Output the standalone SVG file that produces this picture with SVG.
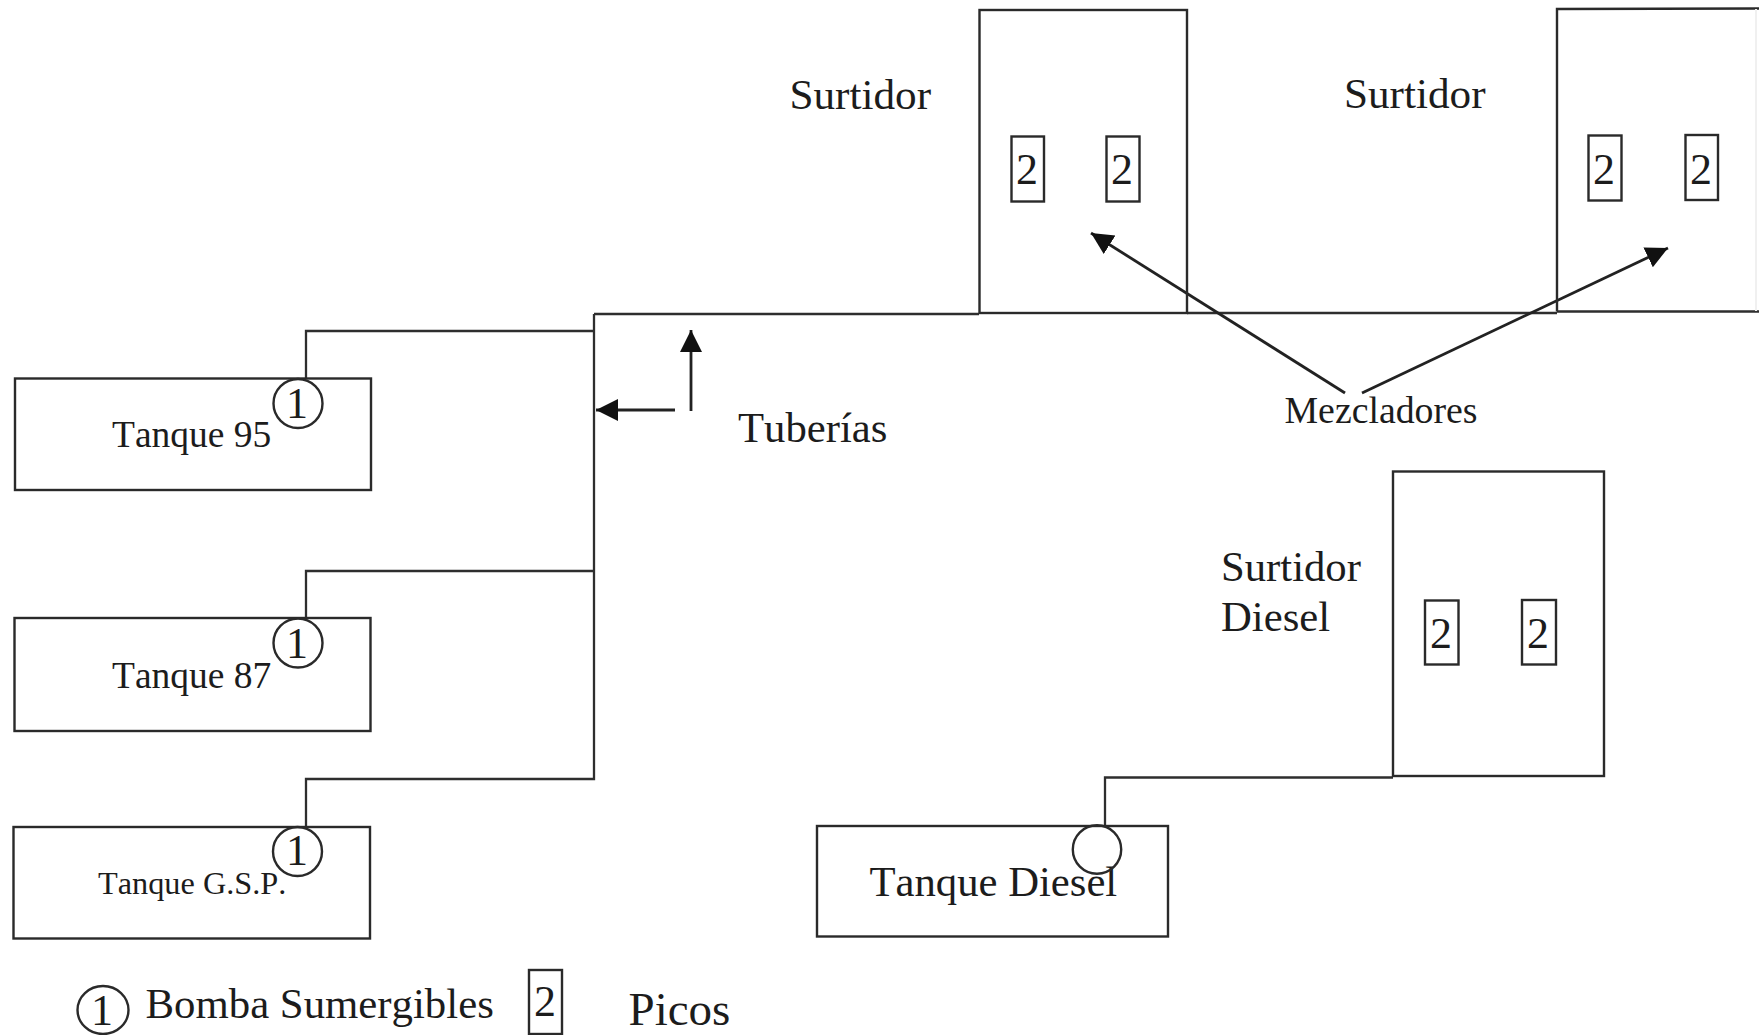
<svg xmlns="http://www.w3.org/2000/svg" width="1759" height="1035" viewBox="0 0 1759 1035">
<style>
.b{fill:none;stroke:#2a2a2a;stroke-width:2.4}
.p{fill:none;stroke:#2e2e2e;stroke-width:2.3}
.a{fill:none;stroke:#222;stroke-width:2.8}
.t{font-family:"Liberation Serif","Times New Roman",serif;fill:#1c1c1c;font-kerning:none}
.s37{font-size:37.500px}.s43{font-size:43.200px}.s42{font-size:42.700px}.s32{font-size:32.300px}.n{font-size:44px;text-anchor:middle}
</style>
<defs>
<marker id="ah" markerUnits="userSpaceOnUse" markerWidth="24" markerHeight="24" refX="22" refY="11" orient="auto"><path d="M0 0L22 11L0 22Z" fill="#111"/></marker>
</defs>
<rect width="1759" height="1035" fill="#fff"/>
<g id="connectors">
<path class="p" d="M594 314H979M1187 313H1557M1557 311.500H1759"/>
<path class="p" d="M594 314V779H306V826"/>
<path class="p" d="M594 331H306V378"/>
<path class="p" d="M594 571H306V618"/>
<path class="p" d="M1393 777.500H1105V826"/>
<path class="a" d="M691 411V330" marker-end="url(#ah)"/>
<path class="a" d="M675 410H596" marker-end="url(#ah)"/>
<path class="a" d="M1345 393L1091 233" marker-end="url(#ah)"/>
<path class="a" d="M1362 393L1668 248" marker-end="url(#ah)"/>
</g>
<g id="tanque95"><rect class="b" x="15" y="378.500" width="356" height="111.500"/><text class="t s37" x="112" y="447">Tanque 95</text></g>
<g id="bomba95"><circle class="b" cx="298" cy="403.500" r="24.500"/><text class="t n" x="297" y="418">1</text></g>
<g id="tanque87"><rect class="b" x="14.500" y="618" width="356" height="113"/><text class="t s37" x="112" y="687.500">Tanque 87</text></g>
<g id="bomba87"><circle class="b" cx="298" cy="643" r="24.500"/><text class="t n" x="297" y="658">1</text></g>
<g id="tanqueGSP"><rect class="b" x="13.500" y="827" width="356.500" height="111.500"/><text class="t s32" x="98" y="893.500">Tanque G.S.P.</text></g>
<g id="bombaGSP"><circle class="b" cx="297.500" cy="851.500" r="24.500"/><text class="t n" x="297" y="865">1</text></g>
<g id="tanqueDiesel"><rect class="b" x="817" y="826" width="351" height="110.500"/><text class="t s42" x="869.500" y="896">Tanque Diesel</text></g>
<g id="bombaDiesel"><circle class="b" cx="1097" cy="849.500" r="24.200"/></g>
<g id="surtidor1"><rect class="b" x="979.500" y="10" width="207.500" height="303"/><text class="t s43" x="789.500" y="109">Surtidor</text>
<rect class="b" x="1011.500" y="136.500" width="32.500" height="65"/><text class="t n" x="1027" y="184">2</text>
<rect class="b" x="1106.500" y="136.500" width="33" height="65"/><text class="t n" x="1122" y="184">2</text></g>
<g id="surtidor2"><path class="b" d="M1759 8.500L1557 9V311.500"/><path d="M1756 9V311" fill="none" stroke="#f0f0f0" stroke-width="2"/><text class="t s43" x="1344" y="107.500">Surtidor</text>
<rect class="b" x="1588.500" y="135.500" width="33" height="65"/><text class="t n" x="1604" y="183.500">2</text>
<rect class="b" x="1685.500" y="135" width="32.500" height="65"/><text class="t n" x="1701" y="183.500">2</text></g>
<g id="surtidorDiesel"><rect class="b" x="1393" y="471.500" width="211" height="304.500"/><text class="t s42" x="1221" y="581">Surtidor</text><text class="t s42" x="1221" y="631">Diesel</text>
<rect class="b" x="1425" y="600.500" width="33.500" height="64"/><text class="t n" x="1441" y="648">2</text>
<rect class="b" x="1522" y="600" width="34" height="64.500"/><text class="t n" x="1538" y="648">2</text></g>
<g id="labels"><text class="t s42" x="738" y="442">Tuberías</text><text class="t" style="font-size:37.800px" x="1284.500" y="422.500">Mezcladores</text></g>
<g id="leyenda"><ellipse class="b" cx="103" cy="1010" rx="25.500" ry="24"/><text class="t n" x="102" y="1025">1</text><text class="t" style="font-size:42.800px" x="145.500" y="1018">Bomba Sumergibles</text>
<rect class="b" x="529" y="970" width="33" height="64"/><text class="t n" x="545" y="1016">2</text><text class="t" style="font-size:47px" x="628.500" y="1024.500">Picos</text></g>
</svg>
